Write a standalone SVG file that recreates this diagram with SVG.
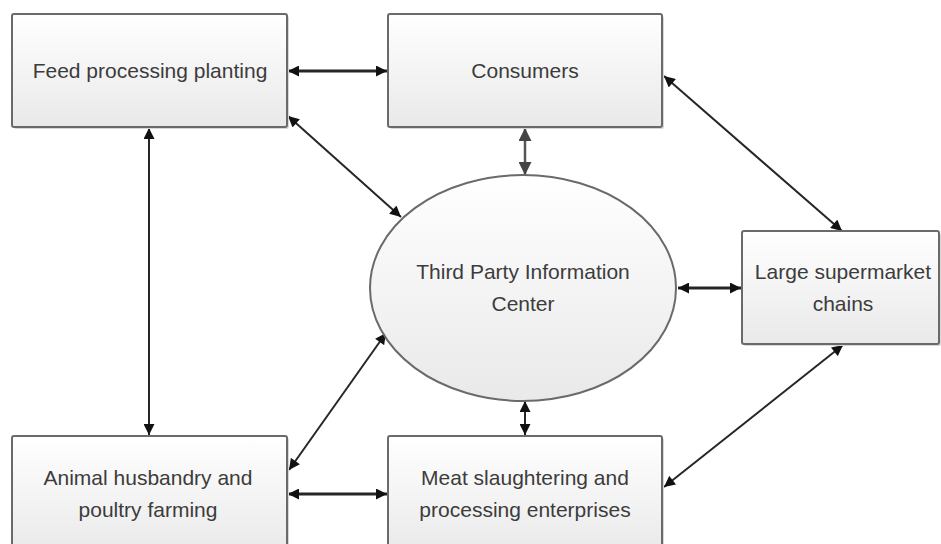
<svg xmlns="http://www.w3.org/2000/svg" width="941" height="544" viewBox="0 0 941 544">
<style>
.box{fill:url(#g);stroke:#6a6a6a;stroke-width:2}
.sh{fill:#d8d8d8}
.t{font-family:"Liberation Sans",Arial,sans-serif;font-size:21px;fill:#3c3c3c;text-anchor:middle}
.c{stroke:#262626;stroke-width:2;fill:none;marker-start:url(#a);marker-end:url(#a)}
.h{stroke-width:3}
.cg{stroke:#555;stroke-width:2.5;fill:none;marker-start:url(#ag);marker-end:url(#ag)}
</style>
<defs>
<linearGradient id="g" x1="0" y1="0" x2="0" y2="1">
<stop offset="0" stop-color="#ffffff"/>
<stop offset="1" stop-color="#e9e9e9"/>
</linearGradient>
<marker id="a" viewBox="0 0 10 10" refX="10" refY="5" markerWidth="12" markerHeight="11" markerUnits="userSpaceOnUse" orient="auto-start-reverse">
<path d="M0,0 L10,5 L0,10 z" fill="#111"/>
</marker>
<marker id="ag" viewBox="0 0 10 10" refX="10" refY="5" markerWidth="14" markerHeight="13" markerUnits="userSpaceOnUse" orient="auto-start-reverse">
<path d="M0,0 L10,5 L0,10 z" fill="#444"/>
</marker>
</defs>
<rect width="941" height="544" fill="#fff"/>
<g id="connectors">
<line class="c h" x1="288" y1="71" x2="387" y2="71"/>
<line class="c" x1="288" y1="116" x2="401" y2="217"/>
<line class="cg" x1="525" y1="128" x2="525" y2="175"/>
<line class="c" x1="664" y1="76" x2="842" y2="231"/>
<line class="c" x1="149" y1="128" x2="149" y2="435"/>
<line class="c h" x1="678" y1="288" x2="741" y2="288"/>
<line class="c" x1="289" y1="470" x2="386" y2="333"/>
<line class="c" x1="525" y1="401" x2="525" y2="435"/>
<line class="c h" x1="288" y1="494" x2="387" y2="494"/>
<line class="c" x1="664" y1="487" x2="843" y2="345"/>
</g>
<g id="feed">
<rect class="sh" x="14" y="16" width="275" height="113" rx="2"/>
<rect class="box" x="12" y="14" width="275" height="113" rx="2"/>
<text class="t" x="150" y="78">Feed processing planting</text>
</g>
<g id="consumers">
<rect class="sh" x="390" y="16" width="274" height="113" rx="2"/>
<rect class="box" x="388" y="14" width="274" height="113" rx="2"/>
<text class="t" x="525" y="78">Consumers</text>
</g>
<g id="center">
<ellipse cx="523" cy="288" rx="153" ry="113" fill="url(#g)" stroke="#6a6a6a" stroke-width="2"/>
<text class="t" x="523" y="279">Third Party Information</text>
<text class="t" x="523" y="311">Center</text>
</g>
<g id="supermarket">
<rect class="sh" x="744" y="233" width="197" height="113" rx="2"/>
<rect class="box" x="742" y="231" width="197" height="113" rx="2"/>
<text class="t" x="843" y="279">Large supermarket</text>
<text class="t" x="843" y="311">chains</text>
</g>
<g id="animal">
<rect class="sh" x="14" y="438" width="275" height="120" rx="2"/>
<rect class="box" x="12" y="436" width="275" height="120" rx="2"/>
<text class="t" x="148" y="485">Animal husbandry and</text>
<text class="t" x="148" y="517">poultry farming</text>
</g>
<g id="meat">
<rect class="sh" x="390" y="438" width="274" height="120" rx="2"/>
<rect class="box" x="388" y="436" width="274" height="120" rx="2"/>
<text class="t" x="525" y="485">Meat slaughtering and</text>
<text class="t" x="525" y="517">processing enterprises</text>
</g>
</svg>
